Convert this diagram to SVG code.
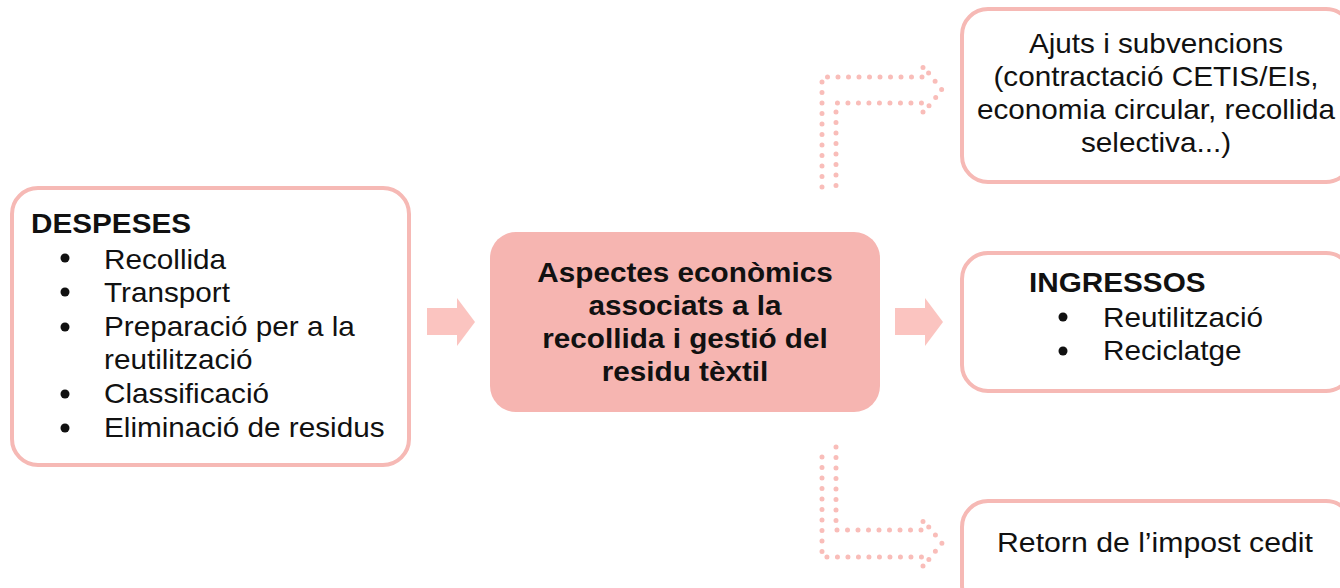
<svg xmlns="http://www.w3.org/2000/svg" width="1340" height="588" viewBox="0 0 1340 588">
<style>
.box{fill:#ffffff;stroke:#f6b9b5;stroke-width:4}
.center{fill:#f6b5b1}
.t{font-family:"Liberation Sans",Arial,sans-serif;font-size:27px;fill:#111111}
.b{font-weight:bold}
.m{text-anchor:middle}
.dot{fill:#111111}
.blk{fill:#fbc4c0}
.dots{fill:none;stroke:#f9bdb9;stroke-width:5;stroke-linecap:round;stroke-linejoin:round;stroke-dasharray:0 10.5}
</style>
<rect width="1340" height="588" fill="#ffffff"/>
<g id="connectors">
<polygon class="blk" points="427,308 457,308 457,298 475,322 457,346 457,335 427,335"/>
<polygon class="blk" points="895,308 925,308 925,298 943,322 925,346 925,335 895,335"/>
<path class="dots" d="M822,187 L822,77 L923,77 L923,66 L942,90 L923,113 L923,103 L836,103 L836,187"/>
<path class="dots" d="M836,447 L836,530 L923,530 L923,520 L942,543 L923,567 L923,557 L822,557 L822,447"/>
</g>
<g id="despeses">
<rect class="box" x="12" y="188" width="397" height="277" rx="26"/>
<text class="t b" transform="translate(31,233) scale(1.1,1)">DESPESES</text>
<circle class="dot" cx="65" cy="258" r="4.5"/>
<circle class="dot" cx="65" cy="292" r="4.5"/>
<circle class="dot" cx="65" cy="327" r="4.5"/>
<circle class="dot" cx="65" cy="394" r="4.5"/>
<circle class="dot" cx="65" cy="428" r="4.5"/>
<text class="t" transform="translate(104,269) scale(1.1,1)">Recollida</text>
<text class="t" transform="translate(104,302) scale(1.1,1)">Transport</text>
<text class="t" transform="translate(104,336) scale(1.1,1)">Preparació per a la</text>
<text class="t" transform="translate(104,369) scale(1.1,1)">reutilització</text>
<text class="t" transform="translate(104,403) scale(1.1,1)">Classificació</text>
<text class="t" transform="translate(104,437) scale(1.1,1)">Eliminació de residus</text>
</g>
<g id="aspectes">
<rect class="center" x="490" y="232" width="390" height="180" rx="26"/>
<text class="t b m" transform="translate(685,282) scale(1.1,1)">Aspectes econòmics</text>
<text class="t b m" transform="translate(685,315) scale(1.1,1)">associats a la</text>
<text class="t b m" transform="translate(685,348) scale(1.1,1)">recollida i gestió del</text>
<text class="t b m" transform="translate(685,381) scale(1.1,1)">residu tèxtil</text>
</g>
<g id="ajuts">
<rect class="box" x="962" y="9" width="390" height="173" rx="26"/>
<text class="t m" transform="translate(1156,53) scale(1.1,1)">Ajuts i subvencions</text>
<text class="t m" transform="translate(1156,86) scale(1.1,1)">(contractació CETIS/EIs,</text>
<text class="t m" transform="translate(1156,119) scale(1.1,1)">economia circular, recollida</text>
<text class="t m" transform="translate(1156,152) scale(1.1,1)">selectiva...)</text>
</g>
<g id="ingressos">
<rect class="box" x="962" y="253" width="390" height="138" rx="26"/>
<text class="t b" transform="translate(1029,292) scale(1.1,1)">INGRESSOS</text>
<circle class="dot" cx="1063" cy="317" r="4.5"/>
<circle class="dot" cx="1063" cy="351" r="4.5"/>
<text class="t" transform="translate(1103,327) scale(1.1,1)">Reutilització</text>
<text class="t" transform="translate(1103,360) scale(1.1,1)">Reciclatge</text>
</g>
<g id="retorn">
<rect class="box" x="962" y="501" width="390" height="110" rx="26"/>
<text class="t" transform="translate(997,552) scale(1.12,1)">Retorn de l’impost cedit</text>
</g>
</svg>
